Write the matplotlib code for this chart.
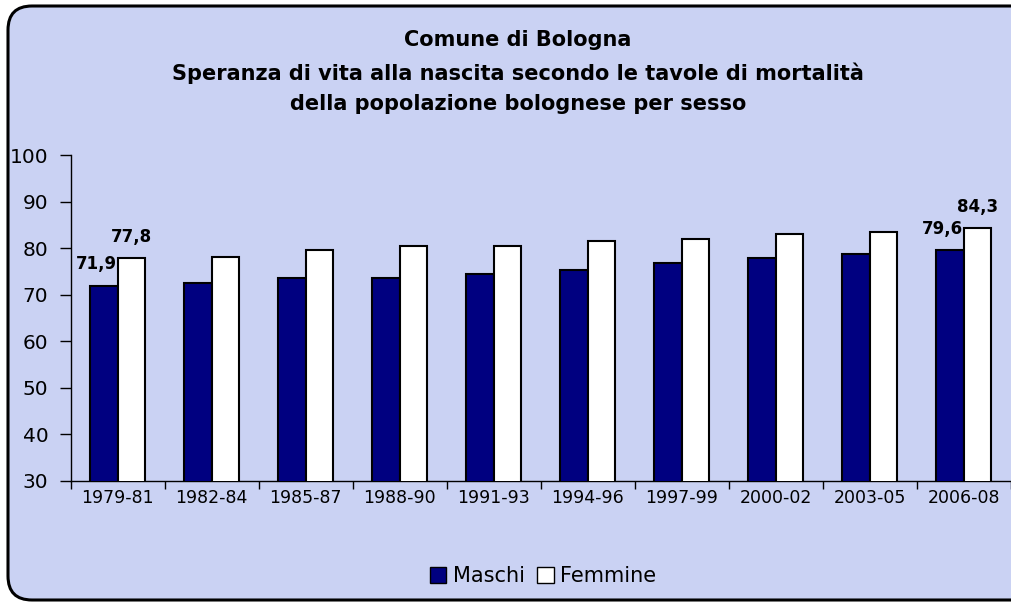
import numpy as np
import matplotlib.pyplot as plt
from matplotlib.patches import FancyBboxPatch, Patch

# Data
periodi = ["1979-81", "1982-84", "1985-87", "1988-90", "1991-93",
           "1994-96", "1997-99", "2000-02", "2003-05", "2006-08"]
maschi = [71.9, 72.6, 73.5, 73.5, 74.5, 75.4, 76.8, 77.8, 78.7, 79.6]
femmine = [77.8, 78.2, 79.7, 80.5, 80.5, 81.6, 82.0, 83.1, 83.5, 84.3]

W, H = 1011, 603
fig = plt.figure(figsize=(W / 100, H / 100), dpi=100)
fig.patch.set_facecolor("white")

# Background with rounded frame
bg = fig.add_axes([0, 0, 1, 1])
bg.set_xlim(0, W)
bg.set_ylim(H, 0)
bg.axis("off")
frame = FancyBboxPatch((8, 6), W + 20, H - 9,
                       boxstyle="round,pad=0,rounding_size=24",
                       facecolor="#cad2f3", edgecolor="black", linewidth=2.2)
bg.add_patch(frame)

# Title
titolo = ["Comune di Bologna",
          "Speranza di vita alla nascita secondo le tavole di mortalità",
          "della popolazione bolognese per sesso"]
for riga, y in zip(titolo, [40, 73, 104]):
    bg.text(518, y, riga, ha="center", va="center", fontsize=15,
            fontweight="bold", family="DejaVu Sans")

# Chart
ax = fig.add_axes([70.7 / W, 1 - 481 / H, 940 / W, 326 / H])
ax.set_facecolor("none")
x = np.arange(len(periodi))
w = 0.29
ax.bar(x - w / 2, maschi, w, color="#000080", edgecolor="black",
       linewidth=1.5, label="Maschi", zorder=3)
ax.bar(x + w / 2, femmine, w, color="white", edgecolor="black",
       linewidth=1.5, label="Femmine", zorder=3)

ax.set_xlim(-0.5, len(periodi) - 0.5)
ax.set_ylim(30, 100)
ax.set_yticks(range(30, 101, 10))
ax.tick_params(axis="y", direction="out", length=8, width=1, pad=8,
               labelsize=14.5)
ax.set_xticks(x)
ax.set_xticklabels(periodi)
ax.set_xticks(np.arange(-0.5, len(periodi)), minor=True)
ax.tick_params(axis="x", which="major", length=0, pad=6, labelsize=12.5)
ax.tick_params(axis="x", which="minor", direction="out", length=6, width=1)
for s in ["top", "right"]:
    ax.spines[s].set_visible(False)
ax.spines["left"].set_linewidth(1)
ax.spines["bottom"].set_linewidth(1)

# Value labels, first and last period only
for i in [0, len(periodi) - 1]:
    ax.annotate(f"{maschi[i]:.1f}".replace(".", ","), (x[i] - w / 2 - 0.08, maschi[i]),
                xytext=(0, 9), textcoords="offset points", ha="center",
                va="bottom", fontsize=12, fontweight="bold")
    ax.annotate(f"{femmine[i]:.1f}".replace(".", ","), (x[i] + w / 2, femmine[i]),
                xytext=(0, 9), textcoords="offset points", ha="center",
                va="bottom", fontsize=12, fontweight="bold")

handles = [Patch(facecolor="#000080", edgecolor="black", label="Maschi"),
           Patch(facecolor="white", edgecolor="black", label="Femmine")]
fig.legend(handles=handles, loc="center", bbox_to_anchor=(543 / W, 1 - 576 / H),
           ncol=2, frameon=False, fontsize=15, handlelength=0.8,
           handleheight=0.8, handletextpad=0.3, columnspacing=0.6)

fig.savefig("out.png", dpi=100)
